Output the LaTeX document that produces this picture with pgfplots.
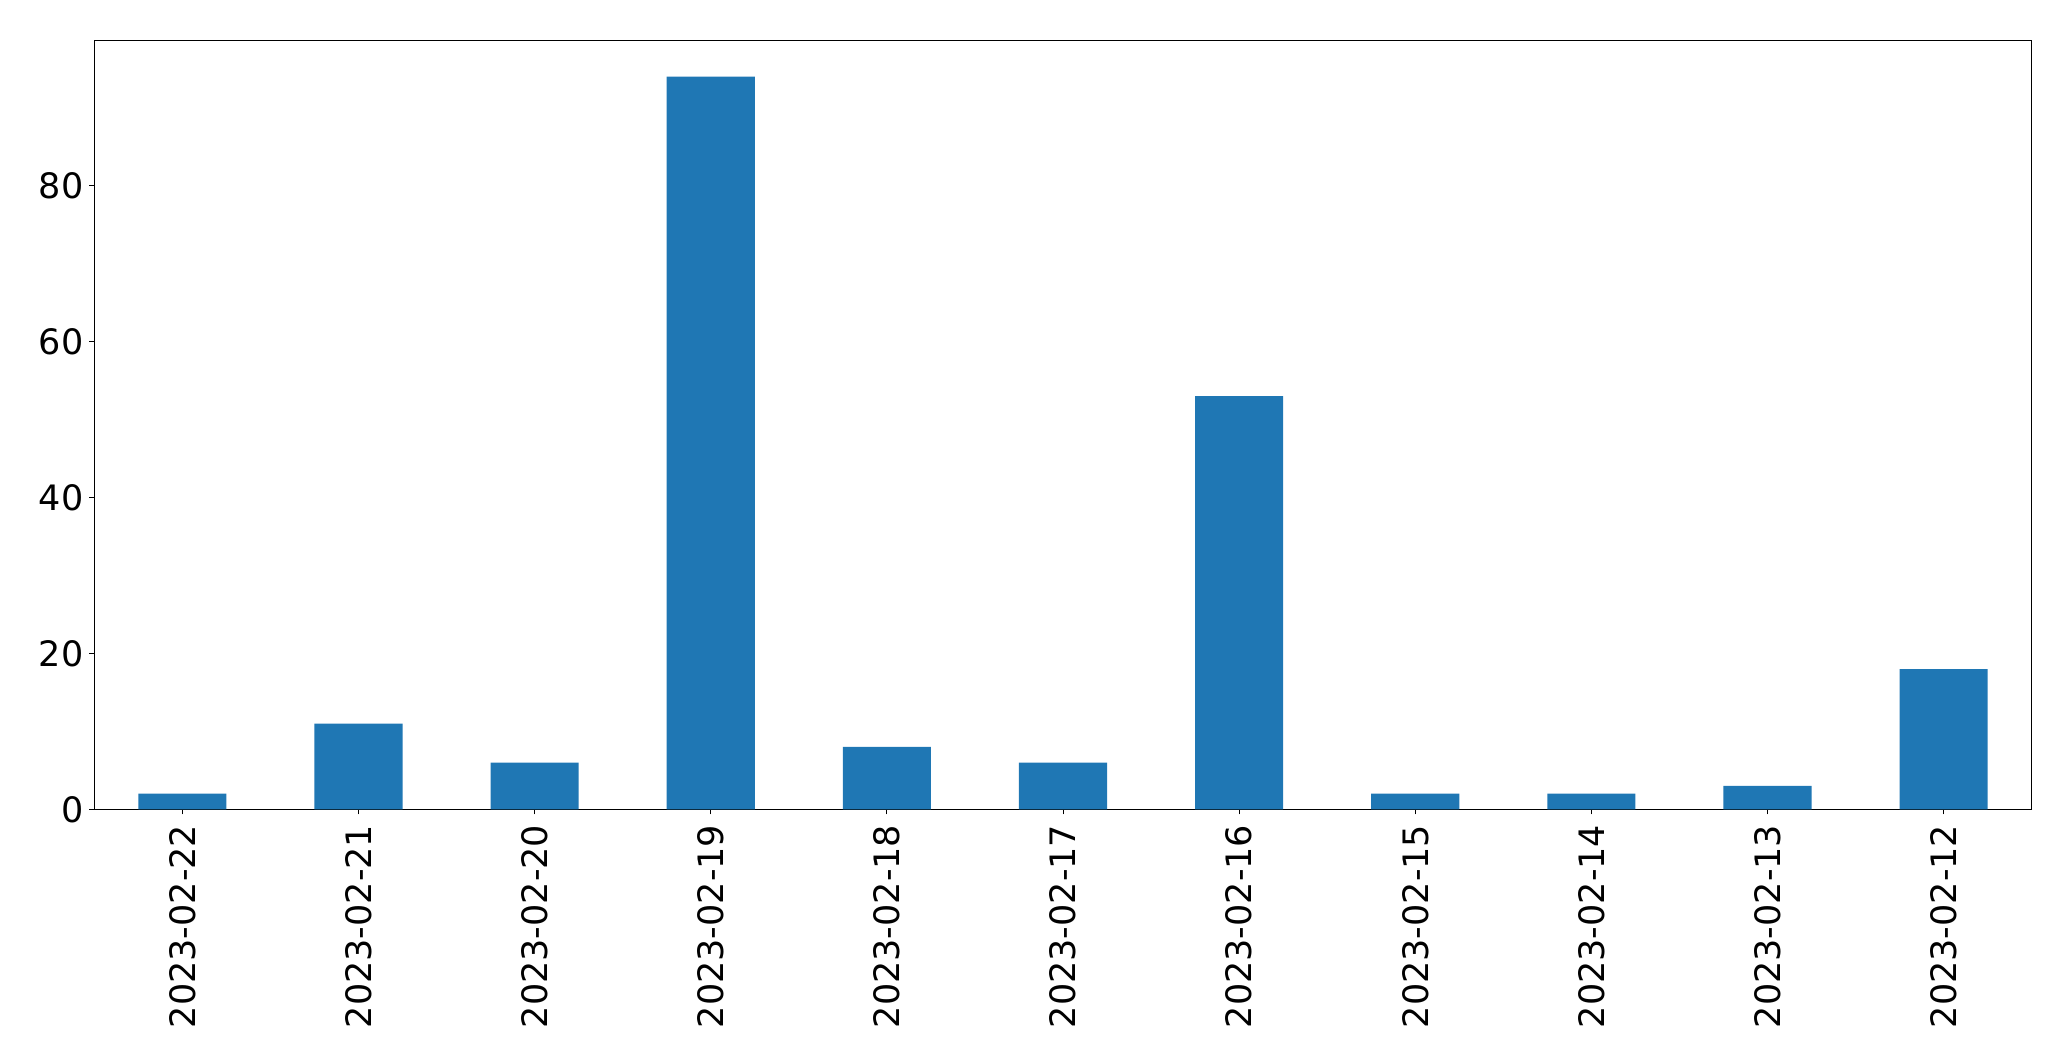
\documentclass[border=0pt]{standalone}
\usepackage{pgfplots}
\pgfplotsset{compat=1.18}
\usepackage{fontspec}
\setmainfont{DejaVu Sans}
\definecolor{mplblue}{HTML}{1F77B4}
\begin{document}
\fontsize{17.5}{21}\selectfont
\begin{tikzpicture}
\useasboundingbox (0,0) rectangle (1035.5pt,530.5pt);
\begin{axis}[
  at={(47.15pt,125.85pt)}, anchor=south west,
  scale only axis,
  width=968.7pt, height=384.65pt,
  xmin=-0.5, xmax=10.5, ymin=0, ymax=98.7,
  xtick={0,1,2,3,4,5,6,7,8,9,10},
  xticklabels={2023-02-22,2023-02-21,2023-02-20,2023-02-19,2023-02-18,2023-02-17,2023-02-16,2023-02-15,2023-02-14,2023-02-13,2023-02-12},
  ytick={0,20,40,60,80},
  tick align=outside,
  major tick length=2.5pt,
  tick style={black, line width=0.5pt},
  xtick pos=bottom, ytick pos=left,
  axis line style={black, line width=0.5pt},
  /pgf/number format/assume math mode=true,
  ticklabel style={font=\fontsize{17.5}{21}\selectfont},
  xticklabel style={rotate=90, anchor=east, inner sep=0pt},
  yticklabel style={anchor=east, inner sep=0pt},
  xticklabel shift=5pt,
  yticklabel shift=2.7pt,
]
\addplot[ybar, bar width=0.5, fill=mplblue, draw=none] coordinates {
 (0,2) (1,11) (2,6) (3,94) (4,8) (5,6) (6,53) (7,2) (8,2) (9,3) (10,18)
};
\end{axis}
\end{tikzpicture}
\end{document}
